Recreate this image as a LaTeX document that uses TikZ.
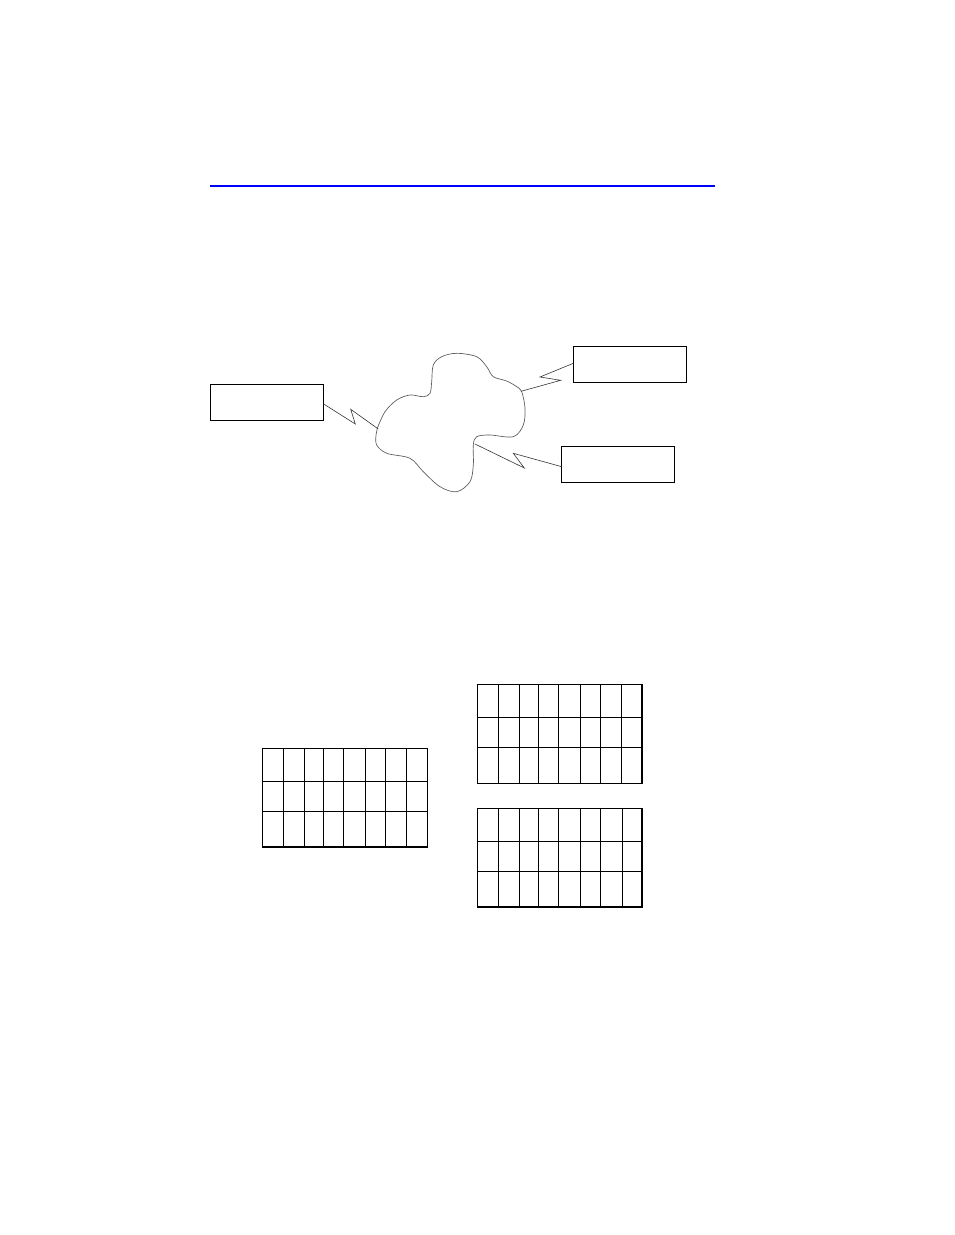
\documentclass[tikz,border=0pt]{standalone}
\begin{document}
\begin{tikzpicture}[x=0.75pt,y=-0.75pt,
  boxstyle/.style={draw=black,line width=0.75pt,minimum width=113*0.75pt,minimum height=36*0.75pt,inner sep=0pt,outer sep=0pt,anchor=north west},
  boltstyle/.style={draw=black!80,line width=0.45pt},
  cloudstyle/.style={draw=black!65,line width=0.5pt},
  gridstyle/.style={draw=black,line width=0.8pt}]
\useasboundingbox (0,0) rectangle (954,1235);
% blue rule
\coordinate (ruleL) at (210,185.5);
\coordinate (ruleR) at (715,185.5);
\draw[blue,line width=1.5pt] (ruleL) -- (ruleR);
% boxes
\node[boxstyle] (bl) at (210.7,384.3) {};
\node[boxstyle] (btr) at (573.3,346.3) {};
\node[boxstyle] (bbr) at (561.7,446.3) {};
% cloud
\draw[cloudstyle] plot[smooth cycle,tension=0.55] coordinates {
 (377.3,428.3) (385,411.7) (396.7,400) (410,395) (423.3,396.7) (430,393.3)
 (431.7,381.7) (433.3,365) (441.7,356.7) (456.7,353.3) (476.7,356.7)
 (486.7,366.7) (493.3,376.7) (506.7,381) (516.7,386.7) (521.7,391.7)
 (525,408.3) (523.3,425) (513.3,436.7) (490,435) (476.7,436.7) (473.3,445)
 (473.3,465) (470,481.7) (456.7,491.7) (440,486.7) (423.3,471.7) (410,458.3)
 (386.7,453.3) (376.7,445) (376,435)};
\coordinate (cl) at (378.3,429);
\coordinate (ctr) at (521,391.3);
\coordinate (cbr) at (475,444);
% lightning connectors
\draw[boltstyle] (bl.east |- 0,404) -- (355.3,424) -- (350.7,409.3) -- (cl);
\draw[boltstyle] (btr.west |- 0,363.3) -- (540,377) -- (560.7,380.3) -- (ctr);
\draw[boltstyle] (bbr.west |- 0,466.7) -- (513.3,453.3) -- (524.3,468) -- (cbr);
% grids
\draw[gridstyle] (262.3,748.3) rectangle (427.3,847);
\foreach \y in {781.3,811.3} \draw[gridstyle] (262.3,\y) -- (427.3,\y);
\foreach \x in {283.3,304.3,323.3,343.7,365.3,385.3,406.3} \draw[gridstyle] (\x,748.3) -- (\x,847);
\draw[gridstyle] (477.3,684.3) rectangle (642,783.3);
\foreach \y in {717.3,747.3} \draw[gridstyle] (477.3,\y) -- (642,\y);
\foreach \x in {498.3,519.3,538.7,558.7,580.3,600.7,621.7} \draw[gridstyle] (\x,684.3) -- (\x,783.3);
\draw[gridstyle] (477.3,808.3) rectangle (642,907);
\foreach \y in {841.3,871.3} \draw[gridstyle] (477.3,\y) -- (642,\y);
\foreach \x in {498.3,519.3,538.7,558.7,580.3,600.7,622.3} \draw[gridstyle] (\x,808.3) -- (\x,907);
\end{tikzpicture}
\end{document}
